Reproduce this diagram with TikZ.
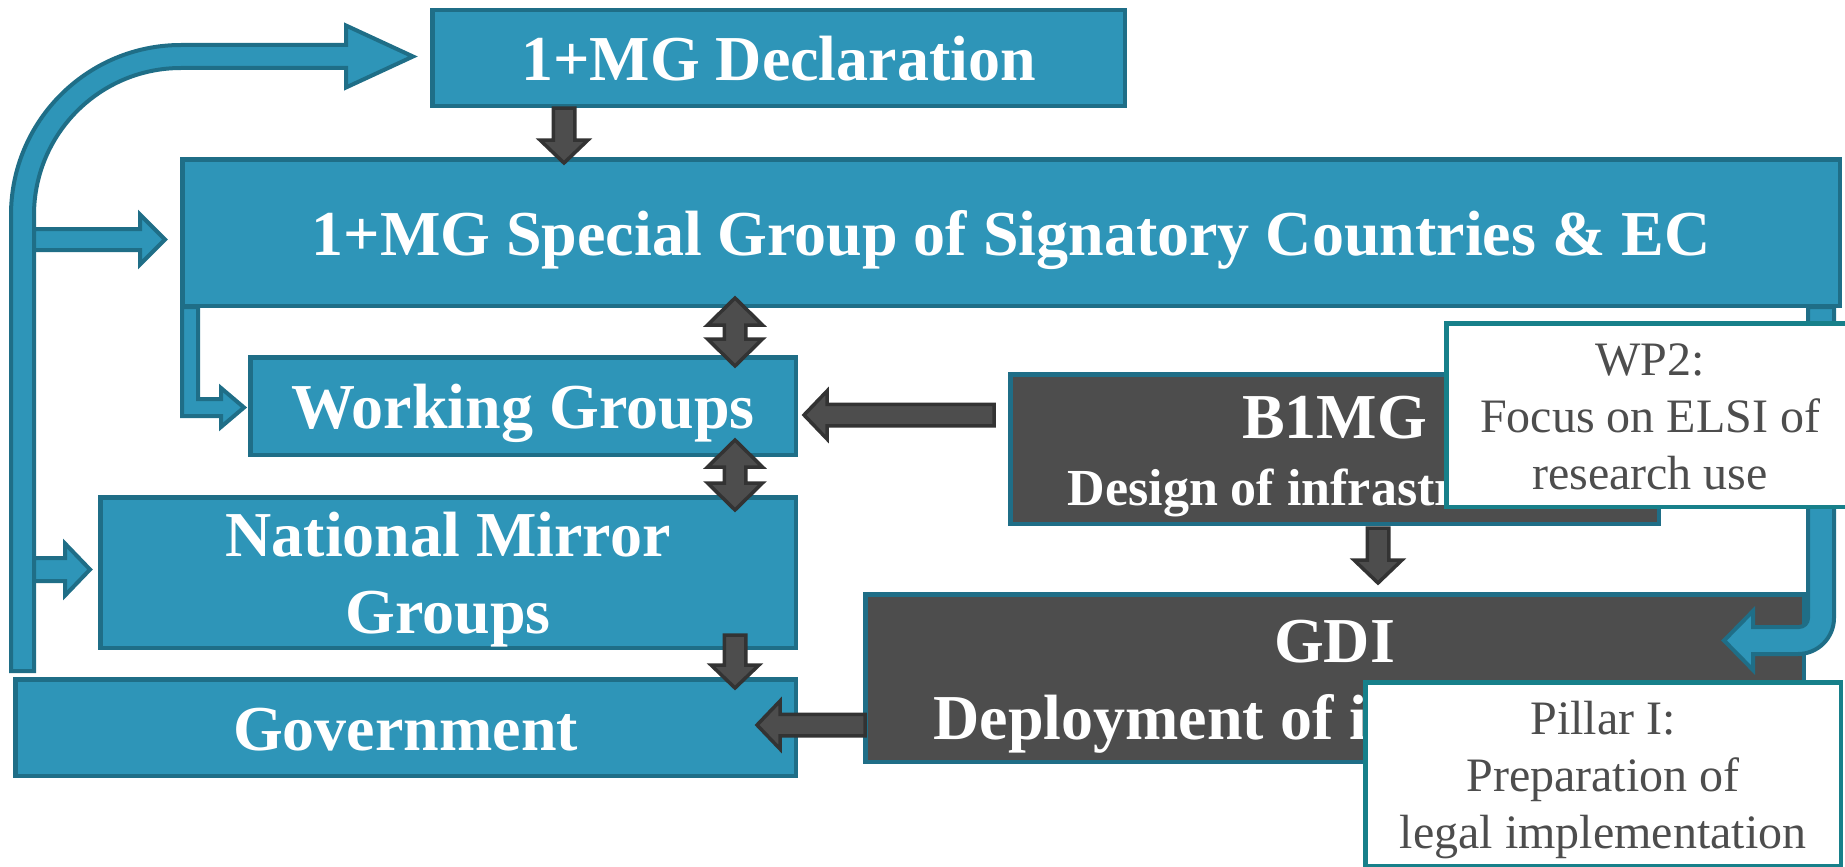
\documentclass[tikz,border=0pt]{standalone}
\usepackage{fontspec}
\setmainfont{Liberation Serif}
\usetikzlibrary{calc}

\definecolor{tealf}{HTML}{2E95B8}
\definecolor{teald}{HTML}{1F6E87}
\definecolor{darkf}{HTML}{4D4D4D}
\definecolor{darkd}{HTML}{333333}
\definecolor{noteline}{HTML}{17808A}
\definecolor{notetext}{HTML}{4D4D4D}

\newcommand{\bigbold}{\fontsize{64}{77}\selectfont\bfseries}
\newcommand{\notefont}{\fontsize{48}{57}\selectfont}
\newcommand{\lh}{\rule[-0.216em]{0pt}{1.146em}}

% block arrows: hs = half shaft, hh = half head, hl = head length
\tikzset{
  hs/.store in=\hs, hh/.store in=\hh, hl/.store in=\hl,
  hs=11, hh=25, hl=25,
  blk/.style={to path={let \p1=(\tikztostart), \p2=(\tikztotarget),
    \n1={veclen(\x2-\x1,\y2-\y1)}, \n2={(\x2-\x1)/\n1}, \n3={(\y2-\y1)/\n1} in
    ({\x1-(\n3)*\hs},{\y1+(\n2)*\hs})
    -- ({\x2-(\n2)*\hl-(\n3)*\hs},{\y2-(\n3)*\hl+(\n2)*\hs})
    -- ({\x2-(\n2)*\hl-(\n3)*\hh},{\y2-(\n3)*\hl+(\n2)*\hh})
    -- (\x2,\y2)
    -- ({\x2-(\n2)*\hl+(\n3)*\hh},{\y2-(\n3)*\hl-(\n2)*\hh})
    -- ({\x2-(\n2)*\hl+(\n3)*\hs},{\y2-(\n3)*\hl-(\n2)*\hs})
    -- ({\x1+(\n3)*\hs},{\y1-(\n2)*\hs}) -- cycle}},
  blkk/.style={to path={let \p1=(\tikztostart), \p2=(\tikztotarget),
    \n1={veclen(\x2-\x1,\y2-\y1)}, \n2={(\x2-\x1)/\n1}, \n3={(\y2-\y1)/\n1} in
    (\x1,\y1)
    -- ({\x1+(\n2)*\hl-(\n3)*\hh},{\y1+(\n3)*\hl+(\n2)*\hh})
    -- ({\x1+(\n2)*\hl-(\n3)*\hs},{\y1+(\n3)*\hl+(\n2)*\hs})
    -- ({\x2-(\n2)*\hl-(\n3)*\hs},{\y2-(\n3)*\hl+(\n2)*\hs})
    -- ({\x2-(\n2)*\hl-(\n3)*\hh},{\y2-(\n3)*\hl+(\n2)*\hh})
    -- (\x2,\y2)
    -- ({\x2-(\n2)*\hl+(\n3)*\hh},{\y2-(\n3)*\hl-(\n2)*\hh})
    -- ({\x2-(\n2)*\hl+(\n3)*\hs},{\y2-(\n3)*\hl-(\n2)*\hs})
    -- ({\x1+(\n2)*\hl+(\n3)*\hs},{\y1+(\n3)*\hl-(\n2)*\hs})
    -- ({\x1+(\n2)*\hl+(\n3)*\hh},{\y1+(\n3)*\hl-(\n2)*\hh}) -- cycle}}
}

\begin{document}
\begin{tikzpicture}[x=1pt,y=-1pt]
\tikzstyle{tealbox}=[draw=teald,fill=tealf,line width=4.5pt,inner sep=0pt,text=white,font=\bigbold,align=center,execute at begin node=\lh,execute at end node=\lh]
\tikzstyle{darkbox}=[tealbox,fill=darkf]
\tikzstyle{notebox}=[draw=noteline,fill=white,line width=4.5pt,inner sep=0pt,text=notetext,font=\notefont,align=center]
\tikzstyle{tealarr}=[draw=teald,fill=tealf,line width=4pt]
\tikzstyle{darkarr}=[draw=darkd,fill=darkf,line width=3.5pt,hs=10.75,hh=24,hl=23]

\useasboundingbox (0,0) rectangle (1845,867);
\clip (0,0) rectangle (1845,867);

% loop on the left, up to the declaration
\draw[tealarr] (11,671) -- (11,215) arc[start angle=180,end angle=270,radius=170]
  -- (346,45) -- (346,25.5) -- (413,56.5) -- (346,87.5) -- (346,68) -- (181,68)
  arc[start angle=270,end angle=180,radius=147] -- (34,671) -- cycle;
\coordinate (j1) at (34,239.5);
\coordinate (j2) at (34,569.5);

\node[tealbox,minimum width=692.5pt,minimum height=95.5pt] (decl) at (778.5,58) {1+MG Declaration};
\node[tealbox,minimum width=1657.5pt,minimum height=146.5pt] (spec) at (1011,232.5) {1+MG Special Group of Signatory Countries \& EC};
\node[tealbox,minimum width=545.5pt,minimum height=97.5pt] (wg) at (523,406) {Working Groups};
\node[tealbox,minimum width=695.5pt,minimum height=150.5pt] (nmg) at (448,572.5) {\lh National Mirror\\Groups\lh};
\node[tealbox,minimum width=780.5pt,minimum height=96.5pt] (gov) at (405.5,727.5) {Government};
\node[darkbox,minimum width=648.5pt,minimum height=149.5pt] (b1mg) at (1334.5,449) {\lh B1MG\\[-10pt]{\fontsize{52}{62}\selectfont Design of infrastructure\lh}};
\node[darkbox,minimum width=938.5pt,minimum height=167.5pt] (gdi) at (1334.5,678) {\lh GDI\\Deployment of infrastructure\lh};

% teal arrows out of the special group
\draw[tealarr] (182,307) -- (182,416) -- (221,416) -- (221,427) -- (244,407.5)
  -- (221,388) -- (221,399) -- (198,399) -- (198,307) -- cycle;
\draw[tealarr] (1808,307) -- (1808,618) arc[start angle=0,end angle=90,radius=9]
  -- (1753,627) -- (1753,611) -- (1724,640.5) -- (1753,670) -- (1753,654) -- (1798,654)
  arc[start angle=90,end angle=0,radius=36] -- (1834,307) -- cycle;

\path (j1) edge[blk,tealarr,hs=10.5,hh=25,hl=25] ([xshift=-15pt,yshift=-7pt]spec.west)
 (j2) edge[blk,tealarr,hs=11.5,hh=26,hl=25] ([xshift=-8pt,yshift=3pt]nmg.west);

\path ([xshift=-214.5pt]decl.south) edge[blk,darkarr] ([xshift=-447pt,yshift=-6pt]spec.north)
 ([xshift=-276pt,yshift=10pt]spec.south) edge[blkk,darkarr,hh=27.5,hl=27] ([xshift=212pt,yshift=-11pt]wg.north)
 ([xshift=212pt,yshift=17pt]wg.south) edge[blkk,darkarr,hh=27.5,hl=27] ([xshift=287pt,yshift=-15pt]nmg.north)
 ([xshift=287pt,yshift=15pt]nmg.south) edge[blk,darkarr] ([xshift=329.5pt,yshift=-11pt]gov.north)
 ([xshift=-14pt,yshift=34pt]b1mg.west) edge[blk,darkarr] ([xshift=6pt,yshift=-9pt]wg.east)
 ([xshift=43.5pt,yshift=-2pt]b1mg.south) edge[blk,darkarr] ([xshift=43.5pt,yshift=9pt]gdi.north)
 ([xshift=2pt,yshift=-47pt]gdi.west) edge[blk,darkarr] ([xshift=-41pt,yshift=2.5pt]gov.east);

\node[notebox,minimum width=407.5pt,minimum height=183.5pt] (wp2) at (1650,415) {\lh WP2:\\Focus on ELSI of\\research use\lh};
\node[notebox,minimum width=475.5pt,minimum height=183.5pt] (pill) at (1603,774) {\lh Pillar I:\\Preparation of\\legal implementation\lh};
\end{tikzpicture}
\end{document}
